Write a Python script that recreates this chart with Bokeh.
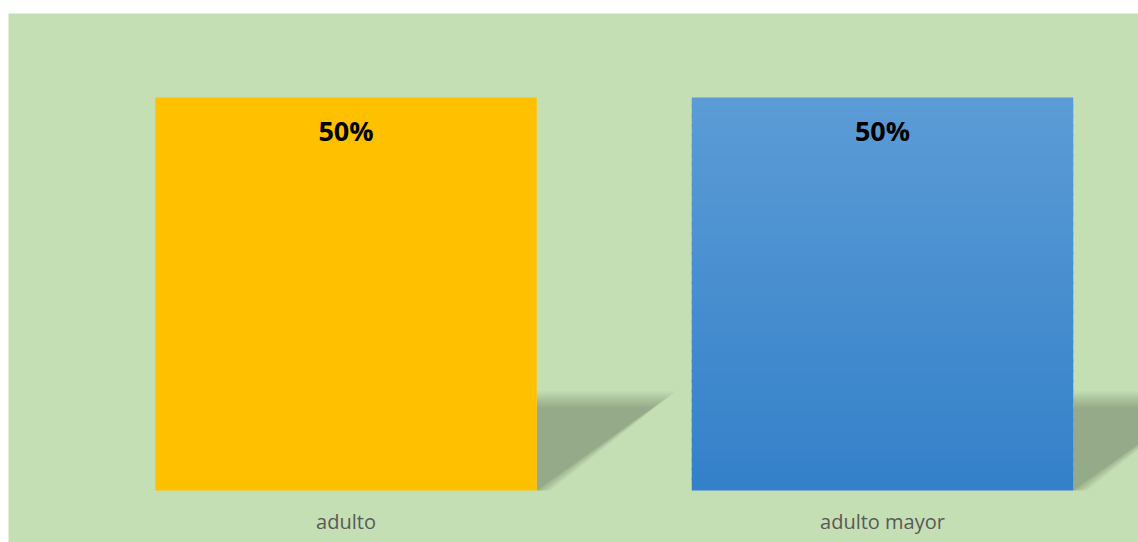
from bokeh.plotting import figure
from bokeh.models import Range1d, Spacer
from bokeh.layouts import column, row
from bokeh.core.properties import value
from bokeh.embed import file_html
from bokeh.resources import INLINE

# ---- data ----
categories = ["adulto", "adulto mayor"]
values = [0.5, 0.5]
labels = ["50%", "50%"]

BG = "#C5DFB4"
YELLOW = "#FFC000"
BLUE_TOP = (92, 156, 214)
BLUE_BOTTOM = (51, 128, 201)

PX_X = 1 / 536.5   # data units per pixel (x)
PX_Y = 1 / 786.0   # data units per pixel (y)
BAR_W = 381.5 * PX_X

p = figure(width=1130, height=529, output_backend="svg", toolbar_location=None,
           x_range=Range1d(-337.5 * PX_X, -337.5 * PX_X + 1130 * PX_X),
           y_range=Range1d(-52 * PX_Y, 477 * PX_Y),
           min_border_left=0, min_border_right=0, min_border_top=0, min_border_bottom=0)
p.background_fill_color = BG
p.border_fill_color = BG
p.outline_line_color = None
p.grid.visible = False
p.axis.visible = False

xs = list(range(len(categories)))

# ---- shadows ----
for i, v in zip(xs, values):
    xr = i + BAR_W / 2
    h = v * 0.232
    L = 128 * PX_X
    b = 6 * PX_X
    for e in [-8, -6, -4, -2, 0, 2, 4, 6, 8]:
        hj = h + e * PX_Y
        Lj = L + e * 1.4 * PX_X
        bj = b + e * PX_X
        p.patch([xr, xr, xr + Lj, xr + max(bj, 0)], [0, hj, hj, 0],
                fill_color="black", fill_alpha=0.028, line_color=None)

# ---- bars ----
for i, v in zip(xs, values):
    if i == 0:
        p.quad(left=i - BAR_W / 2, right=i + BAR_W / 2, bottom=0, top=v,
               fill_color=YELLOW, line_color=None)
    else:
        n = 40
        lefts, rights, bots, tops, cols = [], [], [], [], []
        for k in range(n):
            t = (k + 0.5) / n
            c = tuple(int(round(BLUE_BOTTOM[j] + (BLUE_TOP[j] - BLUE_BOTTOM[j]) * t)) for j in range(3))
            lefts.append(i - BAR_W / 2)
            rights.append(i + BAR_W / 2)
            bots.append(v * k / n)
            tops.append(min(v, v * (k + 1) / n + 3 * PX_Y))
            cols.append("#%02x%02x%02x" % c)
        p.quad(left=lefts, right=rights, bottom=bots, top=tops,
               fill_color=cols, line_color=None)

# ---- value labels ----
p.text(x=xs, y=values, text=labels, text_align="center", text_baseline="middle",
       y_offset=33, text_font=value("Open Sans"), text_font_style="bold",
       text_font_size="27px", text_color="black")

# ---- category labels ----
p.text(x=xs, y=[0] * len(xs), text=categories, text_align="center", text_baseline="middle",
       y_offset=31, text_font=value("Open Sans"), text_font_size="20px",
       text_color="#595959")

layout = column(Spacer(width=10, height=13),
                row(Spacer(width=8, height=10), p, spacing=0),
                spacing=0)
open("out.html", "w").write(file_html(layout, INLINE))
